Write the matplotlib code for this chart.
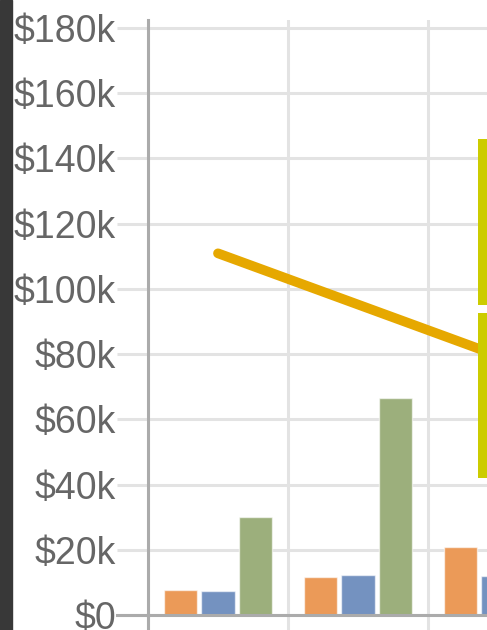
import matplotlib
matplotlib.use("Agg")
import matplotlib.pyplot as plt
from matplotlib.patches import Rectangle
import numpy as np

# ---- data (values in $k) ----
categories = ["A", "B", "C"]
series_orange = [7.7, 11.8, 20.9]
series_blue = [7.4, 12.4, 12.0]
series_green = [30.2, 66.6, 40.0]
line_values = [110.9, 95.2, 79.5]
range_low = [42.0, 95.1]
range_high = [92.6, 146.0]
yticks = [0, 20, 40, 60, 80, 100, 120, 140, 160, 180]
ytick_labels = ["$0", "$20k", "$40k", "$60k", "$80k", "$100k", "$120k", "$140k", "$160k", "$180k"]

W, H = 487, 630
fig = plt.figure(figsize=(W / 100, H / 100), dpi=100)
plt.rcParams['font.family'] = ['Liberation Sans', 'DejaVu Sans']

left_px, right_px = 148, 487
bottom_px, top_px = 615, 20
ax = fig.add_axes([left_px / W, 1 - bottom_px / H, (right_px - left_px) / W, (bottom_px - top_px) / H])

cat_px = 140.0
x0 = -0.5
x1 = x0 + (right_px - left_px) / cat_px
px_per_k = (615 - 28) / 180.0
ytop = (bottom_px - top_px) / px_per_k

grid_c = "#e3e3e3"
axis_c = "#ababab"

x = np.arange(len(categories))
bw = 0.236
step = 0.268
cols = ["#EB9A58", "#7492C0", "#9CAF7C"]
for i, (vals, c) in enumerate(zip([series_orange, series_blue, series_green], cols)):
    ax.bar(x + (i - 1) * step, vals, width=bw, color=c, edgecolor=(1, 1, 1, 0.6),
           linewidth=1.0, zorder=3)

ax.plot(x, line_values, color="#E6A800", linewidth=7, solid_capstyle="round", zorder=4)

for lo, hi in zip(range_low, range_high):
    ax.bar(1.86, hi - lo, bottom=lo, width=0.4, align="edge", color="#CCCC00", zorder=5)

# grid
ax.set_yticks(yticks)
ax.set_yticklabels(ytick_labels)
ax.set_xticks([-0.5, 0.5, 1.5])
ax.set_xticklabels([])
ax.set_xlim(x0, x1)
ax.set_ylim(0, ytop)
ax.grid(True, color=grid_c, linewidth=2.2, zorder=0)
ax.set_axisbelow(True)

for s in ["top", "right"]:
    ax.spines[s].set_visible(False)
ax.spines["left"].set_color(axis_c)
ax.spines["left"].set_linewidth(2.2)
ax.spines["bottom"].set_color(axis_c)
ax.spines["bottom"].set_linewidth(2.2)
ax.spines["bottom"].set_zorder(6)

ax.tick_params(axis="y", length=22.3, width=2.2, color=grid_c, pad=0.8,
               labelsize=27, labelcolor="#666666")
ax.tick_params(axis="x", length=11, width=2.2, color=grid_c)

# darker $0 tick and axis extension below
ax.plot([-31 / cat_px + x0, x0], [0, 0], color=axis_c, linewidth=2.2, clip_on=False, zorder=6)
ax.plot([x0, x0], [0, -15 / px_per_k], color=axis_c, linewidth=2.2, clip_on=False, zorder=6)

fig.patches.append(Rectangle((0, 0), 12 / W, 1, transform=fig.transFigure,
                             color="#383838", zorder=10))

fig.savefig("out.png", dpi=100)
